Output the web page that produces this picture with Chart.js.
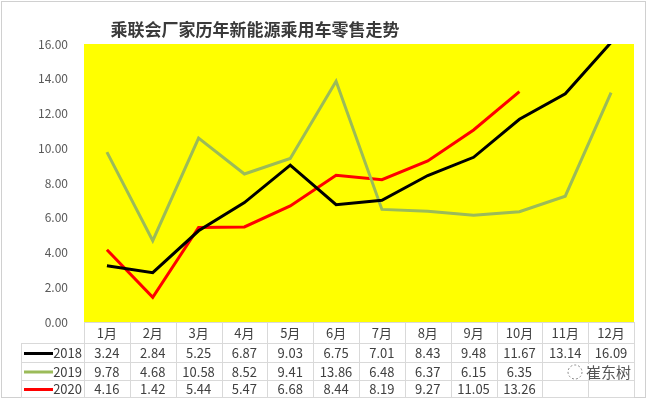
<!DOCTYPE html>
<html>
<head>
<meta charset="utf-8">
<script src="https://cdn.jsdelivr.net/npm/chart.js@4/dist/chart.umd.min.js"></script>
<style>
  html, body { margin: 0; padding: 0; background: #fff; }
  #wrap { width: 649px; height: 399px; position: relative; }
</style>
</head>
<body>
<div id="wrap"><canvas id="salesChart" width="649" height="399"></canvas></div>
<script>
const months = ["1月", "2月", "3月", "4月", "5月", "6月", "7月", "8月", "9月", "10月", "11月", "12月"];
const years = ["2018", "2019", "2020"];
const sales2018 = [3.24, 2.84, 5.25, 6.87, 9.03, 6.75, 7.01, 8.43, 9.48, 11.67, 13.14, 16.09];
const sales2019 = [9.78, 4.68, 10.58, 8.52, 9.41, 13.86, 6.48, 6.37, 6.15, 6.35, 7.24, 13.2];
const sales2020 = [4.16, 1.42, 5.44, 5.47, 6.68, 8.44, 8.19, 9.27, 11.05, 13.26, null, null];
const lineColors = ["#000000", "#9bbb59", "#ff0000"];
const titleText = "乘联会厂家历年新能源乘用车零售走势";
const yMax = 16;
const yStep = 2;

const textColor = "#404040";
const gridColor = "#d9d9d9";
const cjk = "'Noto Sans CJK SC', 'Noto Sans', sans-serif";

// white page, light frame, yellow plot area, title (sits left of centre in the original)
const backdrop = {
    id: "backdrop",
    beforeDraw(chart) {
        const { ctx, chartArea } = chart;
        ctx.save();
        ctx.fillStyle = "#ffffff";
        ctx.fillRect(0, 0, chart.width, chart.height);
        ctx.strokeStyle = "#d0d0d0";
        ctx.lineWidth = 1;
        ctx.strokeRect(1.5, 1.5, chart.width - 5, chart.height - 3);
        ctx.fillStyle = "#ffff00";
        ctx.fillRect(chartArea.left, chartArea.top, chartArea.right - chartArea.left, chartArea.bottom - chartArea.top);
        ctx.fillStyle = "#3a3a3a";
        ctx.font = "bold 17px " + cjk;
        ctx.textAlign = "center";
        ctx.textBaseline = "middle";
        ctx.fillText(titleText, 255, 30);
        ctx.restore();
    }
};

// data table under the plot, like the Excel one
const dataTable = {
    id: "dataTable",
    afterDraw(chart) {
        const { ctx, chartArea, scales } = chart;
        const x = scales.x;
        const left = chartArea.left;
        const right = chartArea.right;
        const colW = (right - left) / months.length;
        const rowY = [chartArea.bottom, chartArea.bottom + 21, chartArea.bottom + 40, chartArea.bottom + 58, chartArea.bottom + 75];
        const tableLeft = 21;

        ctx.save();
        ctx.strokeStyle = gridColor;
        ctx.lineWidth = 1;
        ctx.beginPath();
        ctx.moveTo(left, rowY[0] + 0.5);
        ctx.lineTo(right, rowY[0] + 0.5);
        for (let r = 1; r < rowY.length; r++) {
            ctx.moveTo(tableLeft, Math.round(rowY[r]) + 0.5);
            ctx.lineTo(right, Math.round(rowY[r]) + 0.5);
        }
        for (let c = 0; c <= months.length; c++) {
            const vx = Math.round(left + c * colW) + 0.5;
            ctx.moveTo(vx, rowY[0]);
            ctx.lineTo(vx, rowY[4]);
        }
        ctx.moveTo(tableLeft + 0.5, rowY[1]);
        ctx.lineTo(tableLeft + 0.5, rowY[4]);
        ctx.stroke();

        ctx.fillStyle = textColor;
        ctx.font = "13px " + cjk;
        ctx.textAlign = "center";
        ctx.textBaseline = "middle";
        months.forEach((m, i) => {
            ctx.fillText(m, x.getPixelForValue(i), (rowY[0] + rowY[1]) / 2 + 1);
        });

        chart.data.datasets.forEach((ds, r) => {
            const cy = (rowY[r + 1] + rowY[r + 2]) / 2 + 1;
            ctx.strokeStyle = ds.borderColor;
            ctx.lineWidth = 3;
            ctx.beginPath();
            ctx.moveTo(24, cy);
            ctx.lineTo(53, cy);
            ctx.stroke();
            ctx.fillStyle = textColor;
            ctx.textAlign = "right";
            ctx.fillText(ds.label, 82, cy);
            ctx.textAlign = "center";
            ds.data.forEach((v, i) => {
                if (v === null) return;
                ctx.fillText(v.toFixed(2), x.getPixelForValue(i), cy);
            });
        });

        // watermark over the last 2019 cells
        const wy = (rowY[2] + rowY[3]) / 2 + 1;
        ctx.fillStyle = "#ffffff";
        ctx.fillRect(550, rowY[2] + 2, 83, rowY[3] - rowY[2] - 3);
        ctx.strokeStyle = "#8a8a8a";
        ctx.lineWidth = 1;
        ctx.setLineDash([2, 2]);
        ctx.beginPath();
        ctx.arc(575, wy, 7, 0, Math.PI * 2);
        ctx.stroke();
        ctx.setLineDash([]);
        ctx.fillStyle = "#555555";
        ctx.textAlign = "left";
        ctx.font = "15px " + cjk;
        ctx.fillText("崔东树", 586, wy);
        ctx.restore();
    }
};

new Chart(document.getElementById("salesChart"), {
    type: "line",
    data: {
        labels: months,
        datasets: [
            { label: years[0], data: sales2018, borderColor: lineColors[0] },
            { label: years[1], data: sales2019, borderColor: lineColors[1] },
            { label: years[2], data: sales2020, borderColor: lineColors[2] }
        ].map((ds) => ({ ...ds, borderWidth: 3, pointRadius: 0, tension: 0, fill: false, spanGaps: false }))
    },
    options: {
        responsive: false,
        animation: false,
        layout: { padding: { left: 0, top: 44, right: 15, bottom: 77 } },
        plugins: {
            legend: { display: false },
            tooltip: { enabled: false },
            title: { display: false }
        },
        scales: {
            x: {
                type: "category",
                display: false,
                offset: true
            },
            y: {
                min: 0,
                max: yMax,
                afterFit: (scale) => { scale.width = 84; },
                grid: { display: false },
                border: { display: false },
                ticks: {
                    stepSize: yStep,
                    padding: 8,
                    color: "#595959",
                    font: { family: cjk, size: 12 },
                    callback: (v) => Number(v).toFixed(2)
                }
            }
        }
    },
    plugins: [backdrop, dataTable]
});
</script>
</body>
</html>
